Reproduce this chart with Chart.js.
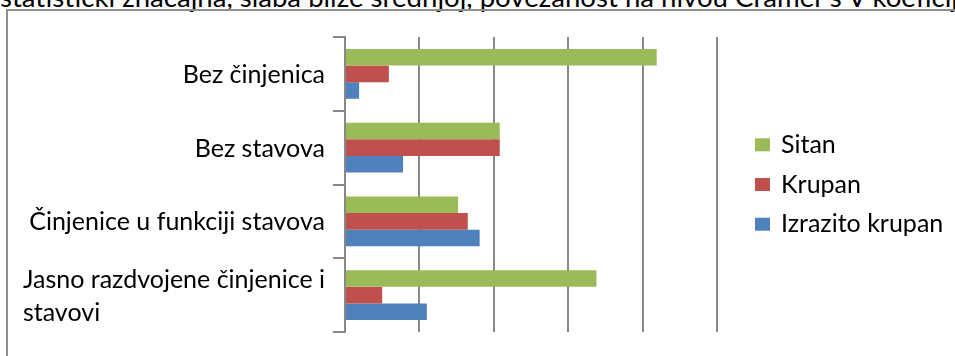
<!DOCTYPE html>
<html>
<head>
<meta charset="utf-8">
<script src="https://cdn.jsdelivr.net/npm/chart.js@4.4.1/dist/chart.umd.min.js"></script>
<style>
  html, body { margin: 0; padding: 0; background: #ffffff; }
  body { width: 955px; height: 356px; position: relative; overflow: hidden; }
  .lead {
    position: absolute; left: 0; top: -17px;
    font-family: Lato, "Open Sans", sans-serif; font-size: 27.6px; line-height: 28px;
    color: #000; white-space: nowrap;
  }
  .frame {
    position: absolute; left: 6px; top: 9px; width: 1000px; height: 400px;
    border: 2px solid #8e8e8e;
  }
  #chart { position: absolute; left: 0; top: 0; }
</style>
</head>
<body>
<div class="lead">statistički značajna, slaba bliže srednjoj, povezanost na nivou Cramer's V koeficij</div>
<div class="frame"></div>
<canvas id="chart" width="955" height="356"></canvas>
<script>
// Categories (a nested array is a label wrapped over two lines)
const categories = [
  'Bez činjenica',
  'Bez stavova',
  'Činjenice u funkciji stavova',
  ['Jasno razdvojene činjenice i', 'stavovi']
];

// Series values
const sitan = [41.9, 20.8, 15.2, 33.8];
const krupan = [5.9, 20.8, 16.5, 5.0];
const izrazitoKrupan = [1.9, 7.8, 18.1, 11.0];

// Value axis range (gridlines every step, labels hidden)
const axisMin = 0;
const axisMax = 50;
const axisStep = 10;

const FONT = 'Lato, "Open Sans", sans-serif';
const GRID = '#888888';

// Category labels: the block is right-aligned next to the axis,
// wrapped lines inside it start at the same left edge.
const categoryLabels = {
  id: 'categoryLabels',
  afterDraw(chart) {
    const { ctx } = chart;
    const y = chart.scales.y;
    const rightEdge = y.left - 8;
    const lineH = 33;
    ctx.save();
    ctx.font = '25px ' + FONT;
    ctx.fillStyle = '#000000';
    ctx.textAlign = 'left';
    ctx.textBaseline = 'middle';
    categories.forEach((label, i) => {
      const lines = Array.isArray(label) ? label : [label];
      const blockW = Math.max(...lines.map(l => ctx.measureText(l).width));
      const x0 = rightEdge - blockW;
      const cy = y.getPixelForValue(i) + 1;
      const startY = cy - (lines.length - 1) * lineH / 2;
      lines.forEach((l, k) => ctx.fillText(l, x0, startY + k * lineH));
    });
    ctx.restore();
  }
};

// Legend to the right of the plot, one row per dataset, centred vertically
const sideLegend = {
  id: 'sideLegend',
  afterDraw(chart) {
    const { ctx, chartArea } = chart;
    const sets = chart.data.datasets;
    const rowH = 39.7;
    const boxX = chartArea.right + 38;
    const midY = (chartArea.top + chartArea.bottom) / 2;
    const firstY = midY - (sets.length - 1) * rowH / 2;
    ctx.save();
    ctx.font = '25px ' + FONT;
    ctx.fillStyle = '#000000';
    ctx.textAlign = 'left';
    ctx.textBaseline = 'middle';
    sets.forEach((ds, k) => {
      const cy = firstY + k * rowH;
      ctx.fillStyle = ds.backgroundColor;
      ctx.fillRect(boxX, cy - 6.5, 15, 13);
      ctx.fillStyle = '#000000';
      ctx.fillText(ds.label, boxX + 26, cy);
    });
    ctx.restore();
  }
};

new Chart(document.getElementById('chart'), {
  type: 'bar',
  data: {
    labels: categories,
    datasets: [
      { label: 'Sitan', data: sitan, backgroundColor: '#9BBB59', borderWidth: 0 },
      { label: 'Krupan', data: krupan, backgroundColor: '#C0504D', borderWidth: 0 },
      { label: 'Izrazito krupan', data: izrazitoKrupan, backgroundColor: '#4F81BD', borderWidth: 0 }
    ]
  },
  options: {
    indexAxis: 'y',
    responsive: false,
    animation: false,
    devicePixelRatio: 1,
    layout: { padding: { left: 333, top: 37, bottom: 24, right: 238 } },
    datasets: { bar: { categoryPercentage: 0.675, barPercentage: 1.0 } },
    scales: {
      x: {
        type: 'linear',
        position: 'bottom',
        min: axisMin,
        max: axisMax,
        ticks: { display: false, stepSize: axisStep },
        grid: { color: GRID, lineWidth: 2, drawTicks: false },
        border: { display: false }
      },
      y: {
        type: 'category',
        position: 'left',
        ticks: { display: false },
        grid: { offset: true, drawOnChartArea: false, drawTicks: true, tickLength: 12, color: GRID, lineWidth: 2 },
        border: { display: true, color: GRID, width: 2 }
      }
    },
    plugins: {
      legend: { display: false },
      tooltip: { enabled: false }
    }
  },
  plugins: [categoryLabels, sideLegend]
});
</script>
</body>
</html>
